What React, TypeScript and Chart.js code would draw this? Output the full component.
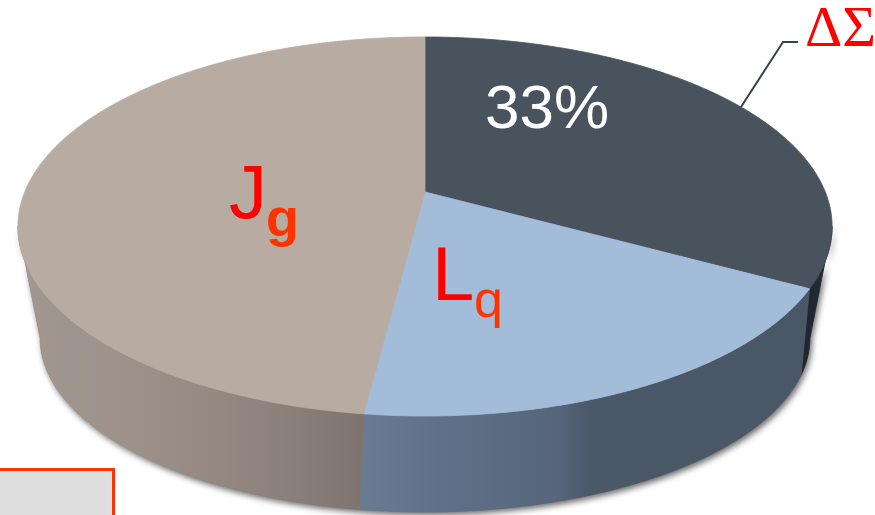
import React, { useEffect, useRef } from 'react';
import { Chart, registerables } from 'chart.js';

Chart.register(...registerables);

// ---- data ----
const categories = ['ΔΣ', 'Lq', 'Jg'];
const shares = [33, 19, 48];
const labelMain = ['ΔΣ', 'L', 'J'];
const labelSub = ['', 'q', 'g'];

// ---- styles ----
const TOP = ['#48535e', '#a3bcd9', '#b8aba2'];
// wall gradient stops: [x, colour]
const WALL_STOPS: [number, string][][] = [
  [[780, '#1b2129'], [835, '#252d36']],
  [[365, '#687b93'], [440, '#5f7189'], [560, '#56657a'], [590, '#4b5868'], [808, '#4a5767']],
  [[18, '#a29890'], [130, '#9d918a'], [200, '#968a83'], [300, '#8a7f78'], [365, '#7f746d']],
];

// perspective projection of the top disc and bottom disc
const TOPP = { cx: 425, cy: 192, a: 400.3, b: 148.3, c: -0.182 };
const BOTP = { cx: 425, cy: 285.8, a: 367.2, b: 72.6, c: -0.3 };
type P = typeof TOPP;
function proj(theta: number, rho: number, p: P): [number, number] {
  const x = rho * Math.sin(theta);
  const y = -rho * Math.cos(theta);
  const den = 1 + p.c * y;
  return [p.cx + (p.a * x) / den, (p.b * y + p.cy) / den];
}
const TR_T = Math.acos(TOPP.c);
const TL_T = 2 * Math.PI - TR_T;
const TR_B = Math.acos(BOTP.c);
const TL_B = 2 * Math.PI - TR_B;

function arcPts(t0: number, t1: number, p: P) {
  const n = Math.max(2, Math.ceil(Math.abs(t1 - t0) / 0.008));
  const out: [number, number][] = [];
  for (let k = 0; k <= n; k++) out.push(proj(t0 + ((t1 - t0) * k) / n, 1, p));
  return out;
}

function wallPath(ctx: CanvasRenderingContext2D, s: number, e: number) {
  const a0 = Math.max(s, TR_T), a1 = Math.min(e, TL_T);
  const b0 = Math.max(s, TR_B), b1 = Math.min(e, TL_B);
  if (a1 <= a0 || b1 <= b0) return false;
  const top = arcPts(a0, a1, TOPP);
  const bot = arcPts(b1, b0, BOTP);
  ctx.beginPath();
  top.forEach(([x, y], k) => (k ? ctx.lineTo(x, y) : ctx.moveTo(x, y)));
  bot.forEach(([x, y]) => ctx.lineTo(x, y));
  ctx.closePath();
  return true;
}

const pie3d = {
  id: 'pie3d',
  beforeDatasetsDraw(chart: any) {
    const ctx: CanvasRenderingContext2D = chart.ctx;
    const meta = chart.getDatasetMeta(0);
    const arcs = meta.data.map((el: any, i: number) => {
      const p = el.getProps(['startAngle', 'endAngle'], true);
      return { s: p.startAngle + Math.PI / 2, e: p.endAngle + Math.PI / 2, i };
    });

    // shadow
    ctx.save();
    ctx.shadowColor = 'rgba(0,0,0,0.6)';
    ctx.shadowBlur = 6;
    ctx.shadowOffsetX = 2;
    ctx.shadowOffsetY = 3;
    if (wallPath(ctx, 0, 2 * Math.PI)) {
      ctx.fillStyle = '#6a6a6a';
      ctx.fill();
    }
    ctx.restore();

    // walls
    arcs.forEach(({ s, e, i }: any) => {
      if (!wallPath(ctx, s, e)) return;
      const stops = WALL_STOPS[i];
      const x0 = stops[0][0], x1 = stops[stops.length - 1][0];
      const g = ctx.createLinearGradient(x0, 0, x1, 0);
      stops.forEach(([x, col]) => g.addColorStop((x - x0) / (x1 - x0), col));
      ctx.fillStyle = g;
      ctx.fill();
      ctx.strokeStyle = g;
      ctx.lineWidth = 0.8;
      ctx.stroke();
    });

    // top faces
    arcs.forEach(({ s, e, i }: any) => {
      const c = proj(0, 0, TOPP);
      const pts = arcPts(s, e, TOPP);
      ctx.beginPath();
      ctx.moveTo(c[0], c[1]);
      pts.forEach(([x, y]) => ctx.lineTo(x, y));
      ctx.closePath();
      ctx.fillStyle = TOP[i];
      ctx.fill();
      ctx.strokeStyle = TOP[i];
      ctx.lineWidth = 0.8;
      ctx.stroke();
    });

    // labels
    ctx.save();
    ctx.textBaseline = 'alphabetic';
    ctx.textAlign = 'center';
    ctx.fillStyle = '#ffffff';
    ctx.font = '62px "Liberation Sans", Arial, sans-serif';
    ctx.fillText(`${shares[0]}%`, 547, 128);

    ctx.textAlign = 'left';
    // Jg
    ctx.fillStyle = '#ff0000';
    ctx.font = '76px "Liberation Sans", Arial, sans-serif';
    ctx.fillText(labelMain[2], 229, 218);
    ctx.fillStyle = '#ff3300';
    ctx.font = 'bold 54px "Liberation Sans", Arial, sans-serif';
    ctx.fillText(labelSub[2], 266, 236);
    // Lq
    ctx.fillStyle = '#ff0000';
    ctx.font = '76px "Liberation Sans", Arial, sans-serif';
    ctx.fillText(labelMain[1], 432, 300);
    ctx.fillStyle = '#ff3300';
    ctx.font = '52px "Liberation Sans", Arial, sans-serif';
    ctx.fillText(labelSub[1], 474, 317);
    // ΔΣ
    ctx.fillStyle = '#ff0000';
    ctx.font = '58px "Liberation Serif", "Times New Roman", serif';
    ctx.fillText(labelMain[0], 805, 46);
    // leader line
    ctx.strokeStyle = '#3b414b';
    ctx.lineWidth = 2;
    ctx.beginPath();
    ctx.moveTo(741, 107);
    ctx.lineTo(783, 42);
    ctx.lineTo(798, 42);
    ctx.stroke();
    ctx.restore();

    return false;
  },
};

export default function App() {
  const ref = useRef<HTMLCanvasElement>(null);
  useEffect(() => {
    if (!ref.current) return;
    const chart = new Chart(ref.current, {
      type: 'pie',
      data: {
        labels: categories,
        datasets: [{ data: shares, backgroundColor: TOP, borderWidth: 0 }],
      },
      options: {
        responsive: false,
        animation: false,
        events: [],
        plugins: { legend: { display: false }, tooltip: { enabled: false } },
      },
      plugins: [pie3d as any],
    });
    return () => chart.destroy();
  }, []);
  return (
    <div
      style={{
        position: 'fixed',
        left: 0,
        top: 0,
        width: 875,
        height: 515,
        overflow: 'hidden',
        background: '#ffffff',
      }}
    >
      <canvas ref={ref} width={875} height={515} style={{ display: 'block' }} />
      <div
        style={{
          position: 'absolute',
          left: -3,
          top: 468,
          width: 118,
          height: 60,
          boxSizing: 'border-box',
          background: '#dfdfdf',
          border: '3px solid #ff3300',
        }}
      />
    </div>
  );
}
